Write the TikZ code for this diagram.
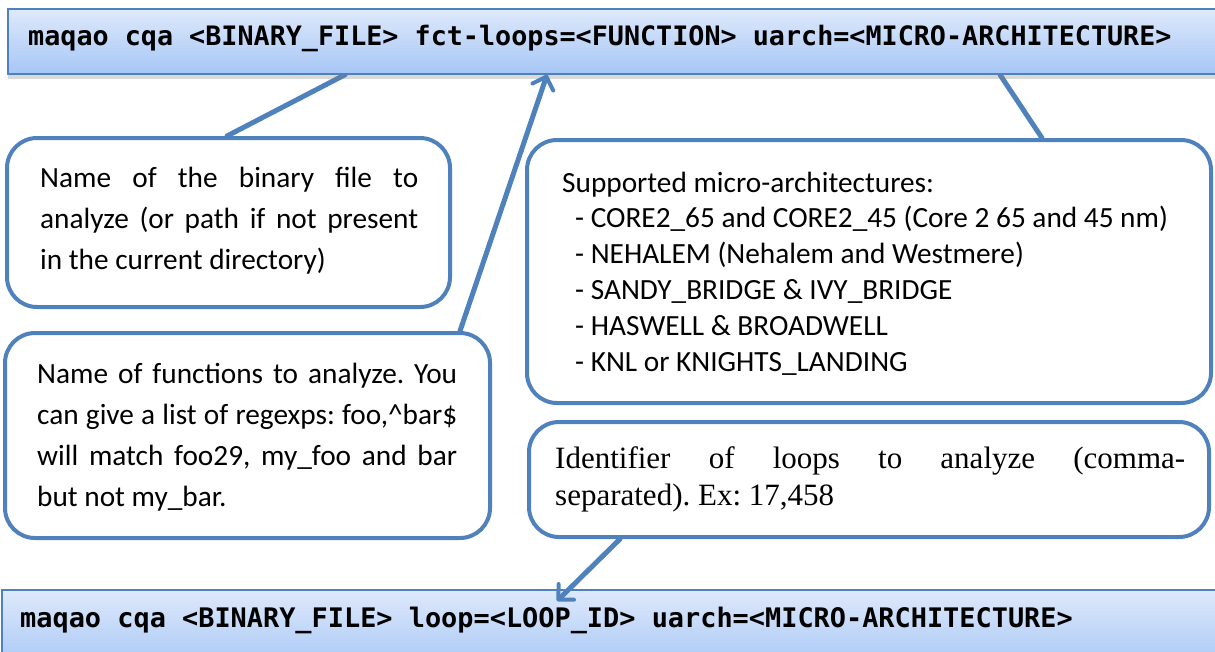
\documentclass[tikz,border=0pt]{standalone}
\usepackage{fontspec}
\setmainfont{Carlito}
\newfontfamily\serifTNR{Liberation Serif}
\newfontfamily\monoDV{DejaVu Sans Mono}
\usetikzlibrary{arrows.meta,shadows,backgrounds}
\definecolor{edge}{RGB}{79,129,189}
\definecolor{gtop}{RGB}{222,233,251}
\definecolor{gbot}{RGB}{166,198,246}
\frenchspacing
\begin{document}
\begin{tikzpicture}[x=1pt,y=-1pt,
  cmdbox/.style={rectangle, draw=edge, line width=1.5pt, top color=gtop, bottom color=gbot,
    drop shadow={opacity=0.3, shadow xshift=0pt, shadow yshift=-5pt}, inner sep=0},
  callout/.style={rectangle, rounded corners=30pt, draw=edge, line width=4pt, fill=white, inner sep=0},
  conn/.style={draw=edge, line width=5pt, line cap=round},
  arr/.style={conn, -{Straight Barb[length=11pt,width=22pt,line width=4pt,round]}},
  txt/.style={anchor=base west, inner sep=0, text=black},
  cmdfont/.style={font=\monoDV\bfseries\fontsize{#1}{30}\selectfont},
  bodyfont/.style={font=\fontsize{29.3}{#1}\selectfont}]
\useasboundingbox (0,0) rectangle (1215,651);
\clip (0,0) rectangle (1215,651);

% command boxes
\node[cmdbox, minimum width=1222pt, minimum height=65pt] (top) at (619,41.5) {};
\node[txt, cmdfont=26.75] (toptxt) at (28,45) {maqao cqa <BINARY\_FILE> fct-loops=<FUNCTION> uarch=<MICRO-ARCHITECTURE>};

\node[cmdbox, minimum width=1228pt, minimum height=80pt] (bot) at (616,630) {};
\node[txt, cmdfont=26.9] (bottxt) at (20,627) {maqao cqa <BINARY\_FILE> loop=<LOOP\_ID> uarch=<MICRO-ARCHITECTURE>};

% callouts
\node[callout, minimum width=443pt, minimum height=169pt] (b1) at (228.5,222.5) {};
\node[txt, bodyfont=41] (b1t) at (40,187) {\parbox[t]{378pt}{%
  \makebox[378pt][s]{Name of the binary file to}\\
  \makebox[378pt][s]{analyze (or path if not present}\\
  in the current directory)}};

\node[callout, minimum width=485pt, minimum height=205pt] (b2) at (247.5,435.5) {};
\node[txt, bodyfont=41] (b2t) at (37,383) {\parbox[t]{420pt}{%
  \makebox[420pt][s]{Name of functions to analyze. You}\\
  \makebox[420pt][s]{can give a list of regexps: foo,\textasciicircum bar\$}\\
  \makebox[420pt][s]{will match foo29, my\_foo and bar}\\
  but not my\_bar.}};

\node[callout, minimum width=684pt, minimum height=263pt] (b3) at (869,271.5) {};
\node[txt, bodyfont=35.8] (b3t) at (562,192) {\parbox[t]{640pt}{%
  Supported micro-architectures:\\
  \hspace*{13pt}- CORE2\_65 and CORE2\_45 (Core 2 65 and 45 nm)\\
  \hspace*{13pt}- NEHALEM (Nehalem and Westmere)\\
  \hspace*{13pt}- SANDY\_BRIDGE \& IVY\_BRIDGE\\
  \hspace*{13pt}- HASWELL \& BROADWELL\\
  \hspace*{13pt}- KNL or KNIGHTS\_LANDING}};

\node[callout, minimum width=680pt, minimum height=115pt] (b4) at (869,479.5) {};
\node[txt, font=\serifTNR\fontsize{31}{37}\selectfont] (b4t) at (555,468) {\parbox[t]{630pt}{%
  \makebox[630pt][s]{Identifier of loops to analyze (comma-}\\
  separated). Ex: 17,458}};

% connectors
\begin{pgfonlayer}{background}
\draw[conn] (b1.north -| 227,0) -- (top.south -| 345,0);
\draw[conn] (b3.north -| 1042,0) -- (top.south -| 1000,0);
\end{pgfonlayer}
\draw[arr] (b2.north -| 460,0) -- (top.south -| 547,0);
\coordinate (c4end) at (557,601);
\draw[arr] (b4.south -| 620,0) -- (c4end);
\end{tikzpicture}
\end{document}
